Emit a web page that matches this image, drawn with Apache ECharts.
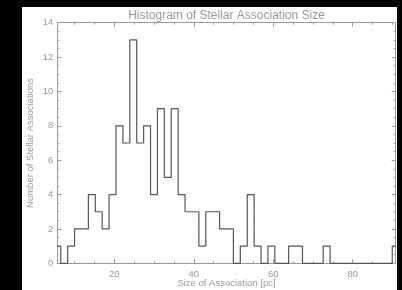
<!DOCTYPE html>
<html>
<head>
<meta charset="utf-8">
<script src="https://cdn.jsdelivr.net/npm/echarts@6/dist/echarts.min.js"></script>
<style>
  html, body { margin: 0; padding: 0; background: #000; }
  #chart { position: absolute; left: 22px; top: 7px; width: 375px; height: 283px; background: #fff; }
</style>
</head>
<body>
<div id="chart"></div>
<script>
// histogram bins (pc)
const binStart = 5.65;
const binWidth = 1.738;
const counts = [1, 0, 1, 2, 2, 4, 3, 2, 4, 8, 7, 13, 7, 8, 4, 9, 5, 9, 4, 3,
                3, 1, 3, 3, 2, 2, 0, 1, 4, 1, 0, 1, 0, 0, 1, 1, 0, 0, 0, 1,
                0, 0, 0, 0, 0, 0, 0, 0, 0, 1];
const xMajor = [20, 40, 60, 80];
const xMinor = [10, 15, 25, 30, 35, 45, 50, 55, 65, 70, 75, 85, 90];

const xMin = binStart;
const xMax = binStart + (counts.length - 1) * binWidth;
const grey = '#999';
const font = 'Liberation Sans';

function xAxisFor(pos, ticks, len, main) {
  return {
    type: 'value', position: pos, min: xMin, max: xMax,
    axisLine: { show: main, lineStyle: { color: grey, width: 1 } },
    axisTick: { show: true, inside: true, length: len, customValues: ticks, lineStyle: { color: grey } },
    axisLabel: main && pos === 'bottom'
      ? { show: true, customValues: xMajor, color: grey, fontSize: 9.5, fontFamily: font, margin: 6 }
      : { show: false },
    splitLine: { show: false },
    name: main && pos === 'bottom' ? 'Size of Association [pc]' : '',
    nameLocation: 'middle', nameGap: 15.5, nameMoveOverlap: false,
    nameTextStyle: { color: grey, fontSize: 9.5, fontFamily: font }
  };
}

function yAxisFor(pos) {
  const left = pos === 'left';
  return {
    type: 'value', position: pos, min: 0, max: 14, interval: 2,
    axisLine: { show: true, lineStyle: { color: grey, width: 1 } },
    axisTick: { show: true, inside: true, length: 4, lineStyle: { color: grey } },
    minorTick: { show: true, splitNumber: 4, length: 2, lineStyle: { color: grey } },
    axisLabel: { show: left, color: grey, fontSize: 9.5, fontFamily: font, margin: 4 },
    splitLine: { show: false },
    minorSplitLine: { show: false },
    name: left ? 'Number of Stellar Associations' : '',
    nameLocation: 'middle', nameGap: 22, nameMoveOverlap: false,
    nameTextStyle: { color: grey, fontSize: 9.5, fontFamily: font }
  };
}

const chart = echarts.init(document.getElementById('chart'));
chart.setOption({
  animation: false,
  title: {
    text: 'Histogram of Stellar Association Size',
    left: 204.5, top: 3, padding: 0, textAlign: 'center',
    textStyle: { color: grey, fontSize: 12, fontWeight: 'normal', fontFamily: font }
  },
  grid: { left: 35.3, right: 1.3, top: 15.7, bottom: 26.7, outerBoundsMode: 'none', containLabel: false },
  xAxis: [
    xAxisFor('bottom', xMajor, 4, true),
    xAxisFor('bottom', xMinor, 2, false),
    xAxisFor('top', xMajor, 4, true),
    xAxisFor('top', xMinor, 2, false)
  ],
  yAxis: [yAxisFor('left'), yAxisFor('right')],
  series: [{
    type: 'line',
    step: 'middle',
    xAxisIndex: 0, yAxisIndex: 0,
    showSymbol: false,
    lineStyle: { color: '#555', width: 1.2 },
    data: counts.map((c, i) => [binStart + i * binWidth, c])
  }]
});
</script>
</body>
</html>
